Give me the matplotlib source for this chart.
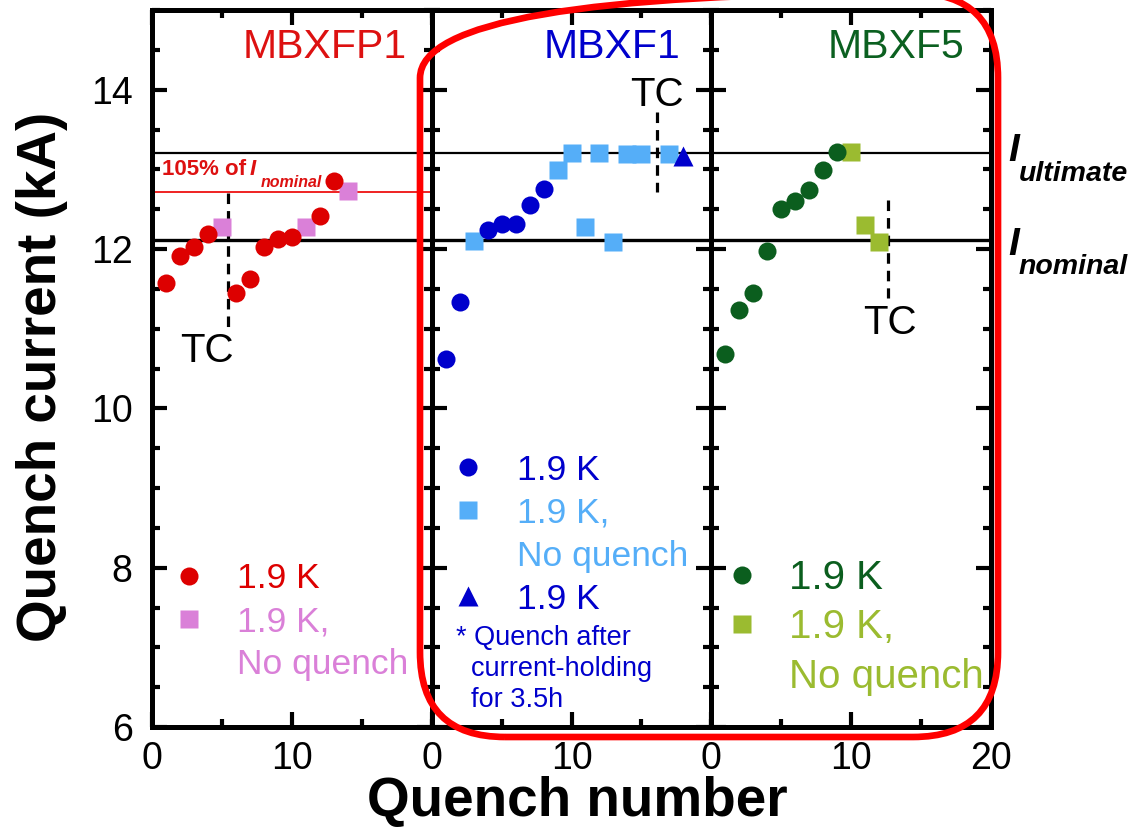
import matplotlib
matplotlib.use("Agg")
import matplotlib.pyplot as plt
from matplotlib.lines import Line2D
from matplotlib.patches import FancyBboxPatch
from matplotlib.transforms import IdentityTransform, blended_transform_factory
from matplotlib.ticker import MultipleLocator, FixedLocator

plt.rcParams['font.family'] = ['Liberation Sans', 'DejaVu Sans']

# ---- data ----
p1_q_x = [1, 2, 3, 4, 6, 7, 8, 9, 10, 12, 13]
p1_q_y = [11.57, 11.91, 12.02, 12.19, 11.45, 11.62, 12.03, 12.12, 12.15, 12.41, 12.85]
p1_nq_x = [5, 11, 14]
p1_nq_y = [12.28, 12.28, 12.73]

p2_q_x = [1, 2, 4, 5, 6, 7, 8]
p2_q_y = [10.62, 11.34, 12.24, 12.32, 12.32, 12.55, 12.75]
p2_nq_x = [3, 9, 10, 11, 12, 13, 14, 15, 17]
p2_nq_y = [12.10, 12.99, 13.20, 12.28, 13.21, 12.09, 13.19, 13.19, 13.19]
p2_hold_x = [18]
p2_hold_y = [13.17]

p3_q_x = [1, 2, 3, 4, 5, 6, 7, 8, 9]
p3_q_y = [10.68, 11.24, 11.45, 11.97, 12.50, 12.60, 12.74, 12.99, 13.22]
p3_nq_x = [10, 11, 12]
p3_nq_y = [13.22, 12.30, 12.09]

I_NOM = 12.11
I_ULT = 13.2

# thermal cycle markers: x, y_top, y_bottom, label x, label y
tc_specs = [(5.4, 12.70, 10.94, 3.9, 10.72),
            (16.1, 13.72, 12.72, 16.1, 13.93),
            (12.6, 12.61, 11.38, 12.8, 11.07)]

names = ['MBXFP1', 'MBXF1', 'MBXF5']
name_colors = ['#DD1111', '#0000CC', '#0B6020']
q_colors = ['#DD0000', '#0000CC', '#0B5E1E']
nq_colors = ['#DA80D8', '#55AEF8', '#9BBB30']

fig = plt.figure(figsize=(11.28, 8.35), dpi=100)
W, H = 1128.0, 835.0
left, right, top, bottom = 152, 991, 10, 727
pw = (right - left) / 3.0

axes = []
for i in range(3):
    ax = fig.add_axes([(left + i * pw) / W, 1 - bottom / H, pw / W, (bottom - top) / H])
    axes.append(ax)

series = [(p1_q_x, p1_q_y, p1_nq_x, p1_nq_y),
          (p2_q_x, p2_q_y, p2_nq_x, p2_nq_y),
          (p3_q_x, p3_q_y, p3_nq_x, p3_nq_y)]

for i, ax in enumerate(axes):
    qx, qy, nx_, ny_ = series[i]
    ax.set_xlim(0, 20)
    ax.set_ylim(6, 15)
    ax.axhline(I_ULT, color='black', lw=1.6, zorder=1)
    ax.axhline(I_NOM, color='black', lw=2.4, zorder=1)
    h_q, = ax.plot(qx, qy, 'o', ms=13, color=q_colors[i], mec='none', zorder=4)
    h_nq, = ax.plot(nx_, ny_, 's', ms=13, color=nq_colors[i], mec='none', zorder=3)

    tx, ty0, ty1, lx, ly = tc_specs[i]
    ax.plot([tx, tx], [ty0, ty1], color='black', lw=2.3, ls=(0, (3.3, 2.2)), zorder=2)
    ax.text(lx, ly, 'TC', fontsize=29, ha='center', va='center')

    ax.text([0.91, 0.889, 0.904][i], 0.948, names[i], color=name_colors[i],
            fontsize=29.5, ha='right', va='center', transform=ax.transAxes)

    blank = Line2D([], [], ls='none')
    fs, pad = 25.5, 0.86
    if i == 1:
        h_tr, = ax.plot(p2_hold_x, p2_hold_y, '^', ms=14, color='#0000CC', mec='none', zorder=4)
        handles = [h_q, h_nq, blank, h_tr]
        labels = ['1.9 K', '1.9 K,', 'No quench', '1.9 K']
        lcol = ['#0000CC', '#55AEF8', '#55AEF8', '#0000CC']
        anchor = (0.068, 0.381)
    else:
        handles = [h_q, h_nq, blank]
        labels = ['1.9 K', '1.9 K,', 'No quench']
        lcol = [q_colors[i], nq_colors[i], nq_colors[i]]
        anchor = (0.068, 0.230)
        if i == 2:
            fs, pad = 29, 0.69
            anchor = (0.036, 0.234)
    ax.legend(handles, labels, loc='upper left', bbox_to_anchor=anchor, frameon=False,
              fontsize=fs, labelcolor=lcol, handlelength=1.0, handletextpad=pad,
              labelspacing=0.28, borderpad=0, borderaxespad=0, markerscale=1.0)

    ax.xaxis.set_major_locator(MultipleLocator(10))
    ax.xaxis.set_minor_locator(MultipleLocator(5))
    ax.yaxis.set_major_locator(MultipleLocator(2))
    ax.yaxis.set_minor_locator(MultipleLocator(0.5))
    ax.tick_params(which='both', direction='in', top=True, right=True, width=3)
    ax.tick_params(which='major', length=11, labelsize=27)
    ax.tick_params(which='minor', length=6)
    ax.tick_params(axis='y', pad=14)
    ax.tick_params(axis='x', pad=10)
    if i < 2:
        ax.set_xticks([0, 10])
        ax.xaxis.set_minor_locator(FixedLocator([5, 15, 20]))
    if i > 0:
        ax.tick_params(axis='y', labelleft=False)
    for sp in ax.spines.values():
        sp.set_linewidth(3.6)

# 105 % of nominal line on the prototype panel
ax1 = axes[0]
ax1.axhline(1.05 * I_NOM, color='#EE1111', lw=1.3, zorder=1)
ax1.text(0.7, 12.93, '105% of ', color='#DD1111', fontsize=16, fontweight='bold', va='baseline')
ax1.text(7.0, 12.93, 'I', color='#DD1111', fontsize=16, fontweight='bold', style='italic', va='baseline')
ax1.text(7.75, 12.78, 'nominal', color='#DD1111', fontsize=11.5, fontweight='bold', style='italic', va='baseline')

# labels of the reference currents at the right
ax3 = axes[2]
tr = blended_transform_factory(ax3.transAxes, ax3.transData)
ax3.text(1.062, 13.10, 'I', fontsize=28, fontweight='bold', style='italic', va='baseline', transform=tr)
ax3.text(1.1, 12.85, 'ultimate', fontsize=20.5, fontweight='bold', style='italic', va='baseline', transform=tr)
ax3.text(1.062, 11.93, 'I', fontsize=28, fontweight='bold', style='italic', va='baseline', transform=tr)
ax3.text(1.1, 11.69, 'nominal', fontsize=20.5, fontweight='bold', style='italic', va='baseline', transform=tr)

ax2 = axes[1]
ax2.text(0.088, 0.081, '* Quench after\n  current-holding\n  for 3.5h', color='#0000CC',
         fontsize=19.5, linespacing=1.25, ha='left', va='center', transform=ax2.transAxes)

axes[0].set_ylabel('Quench current (kA)', fontsize=39.5, fontweight='bold')
axes[0].yaxis.set_label_coords(-0.30, (727 - 377) / 717.0)
axes[1].set_xlabel('Quench number', fontsize=39.5, fontweight='bold')
axes[1].xaxis.set_label_coords(0.52, -0.068)

# red rounded frame around the two series magnets
frame = FancyBboxPatch((420, H - 737), 578, 744, boxstyle='round,pad=0,rounding_size=85',
                       transform=IdentityTransform(), fill=False, ec='#FF0000', lw=4.8,
                       clip_on=False, zorder=10)
fig.patches.append(frame)

fig.savefig('out.png', dpi=100)
